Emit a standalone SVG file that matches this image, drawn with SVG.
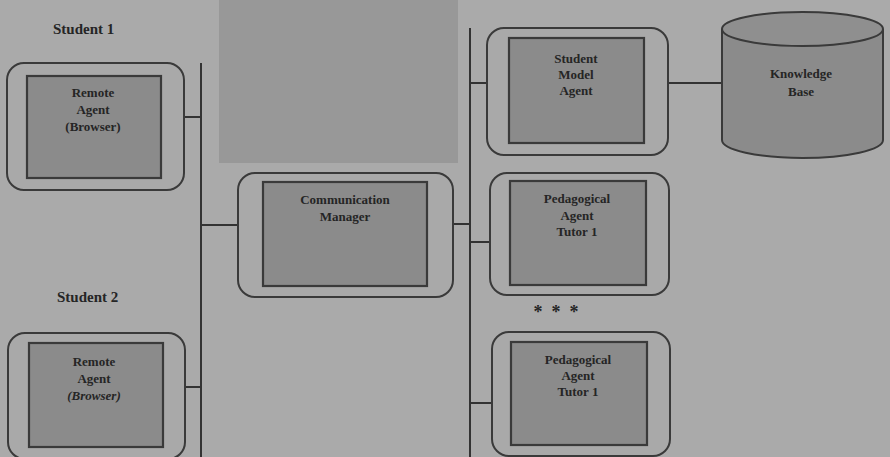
<svg xmlns="http://www.w3.org/2000/svg" width="890" height="457" viewBox="0 0 890 457">
<style>
.outer{fill:#a9a9a9;stroke:#3a3a3a;stroke-width:2}
.inner{fill:#8b8b8b;stroke:#3a3a3a;stroke-width:2.2}
.lbl{font-family:"Liberation Serif","Times New Roman",serif;font-weight:bold;font-size:13px;fill:#252525;text-anchor:middle}
.head{font-family:"Liberation Serif","Times New Roman",serif;font-weight:bold;font-size:15px;fill:#252525}
.star{font-family:"Liberation Serif","Times New Roman",serif;font-weight:bold;font-size:18px;fill:#252525;text-anchor:middle}
.wire{stroke:#333;stroke-width:2;fill:none}
</style>
<rect x="0" y="0" width="890" height="457" fill="#aaaaaa"/>
<rect x="219" y="0" width="239" height="163" fill="#989898"/>

<g id="connectors">
<line class="wire" x1="201" y1="63" x2="201" y2="457"/>
<line class="wire" x1="470" y1="28" x2="470" y2="457"/>
<line class="wire" x1="184" y1="117" x2="201" y2="117"/>
<line class="wire" x1="185" y1="387" x2="201" y2="387"/>
<line class="wire" x1="201" y1="225" x2="238" y2="225"/>
<line class="wire" x1="453" y1="224" x2="470" y2="224"/>
<line class="wire" x1="470" y1="83" x2="487" y2="83"/>
<line class="wire" x1="668" y1="83" x2="722" y2="83"/>
<line class="wire" x1="470" y1="242" x2="490" y2="242"/>
<line class="wire" x1="470" y1="403" x2="492" y2="403"/>
</g>

<text class="head" x="53" y="34">Student 1</text>
<text class="head" x="57" y="302">Student 2</text>

<g id="remote1">
<rect class="outer" x="7" y="63" width="177" height="127" rx="17"/>
<rect class="inner" x="27" y="76" width="134" height="102"/>
<text class="lbl" x="93" y="97">Remote</text>
<text class="lbl" x="93" y="114">Agent</text>
<text class="lbl" x="93" y="131">(Browser)</text>
</g>

<g id="remote2">
<rect class="outer" x="8" y="333" width="177" height="126" rx="17"/>
<rect class="inner" x="29" y="343" width="134" height="104"/>
<text class="lbl" x="94" y="366">Remote</text>
<text class="lbl" x="94" y="383">Agent</text>
<text class="lbl" x="94" y="400" font-style="italic">(Browser)</text>
</g>

<g id="commManager">
<rect class="outer" x="238" y="173" width="215" height="124" rx="17"/>
<rect class="inner" x="263" y="182" width="164" height="104"/>
<text class="lbl" x="345" y="204">Communication</text>
<text class="lbl" x="345" y="221">Manager</text>
</g>

<g id="studentModel">
<rect class="outer" x="487" y="28" width="181" height="127" rx="17"/>
<rect class="inner" x="509" y="38" width="135" height="105"/>
<text class="lbl" x="576" y="63">Student</text>
<text class="lbl" x="576" y="79">Model</text>
<text class="lbl" x="576" y="95">Agent</text>
</g>

<g id="knowledgeBase">
<path d="M722,29 L722,140 A80.5,18 0 0 0 883,140 L883,29" fill="#8b8b8b" stroke="#3a3a3a" stroke-width="2"/>
<ellipse cx="802.5" cy="29" rx="80.5" ry="17" fill="#8f8f8f" stroke="#3a3a3a" stroke-width="2"/>
<text class="lbl" x="801" y="78">Knowledge</text>
<text class="lbl" x="801" y="96">Base</text>
</g>

<g id="pedagogical1">
<rect class="outer" x="490" y="173" width="179" height="122" rx="17"/>
<rect class="inner" x="510" y="181" width="136" height="104"/>
<text class="lbl" x="577" y="203">Pedagogical</text>
<text class="lbl" x="577" y="220">Agent</text>
<text class="lbl" x="577" y="236">Tutor 1</text>
</g>

<g id="ellipsis">
<text class="star" x="538" y="318">*</text>
<text class="star" x="556" y="318">*</text>
<text class="star" x="574" y="318">*</text>
</g>

<g id="pedagogical2">
<rect class="outer" x="492" y="332" width="178" height="124" rx="17"/>
<rect class="inner" x="511" y="342" width="136" height="103"/>
<text class="lbl" x="578" y="364">Pedagogical</text>
<text class="lbl" x="578" y="380">Agent</text>
<text class="lbl" x="578" y="396">Tutor 1</text>
</g>
</svg>
